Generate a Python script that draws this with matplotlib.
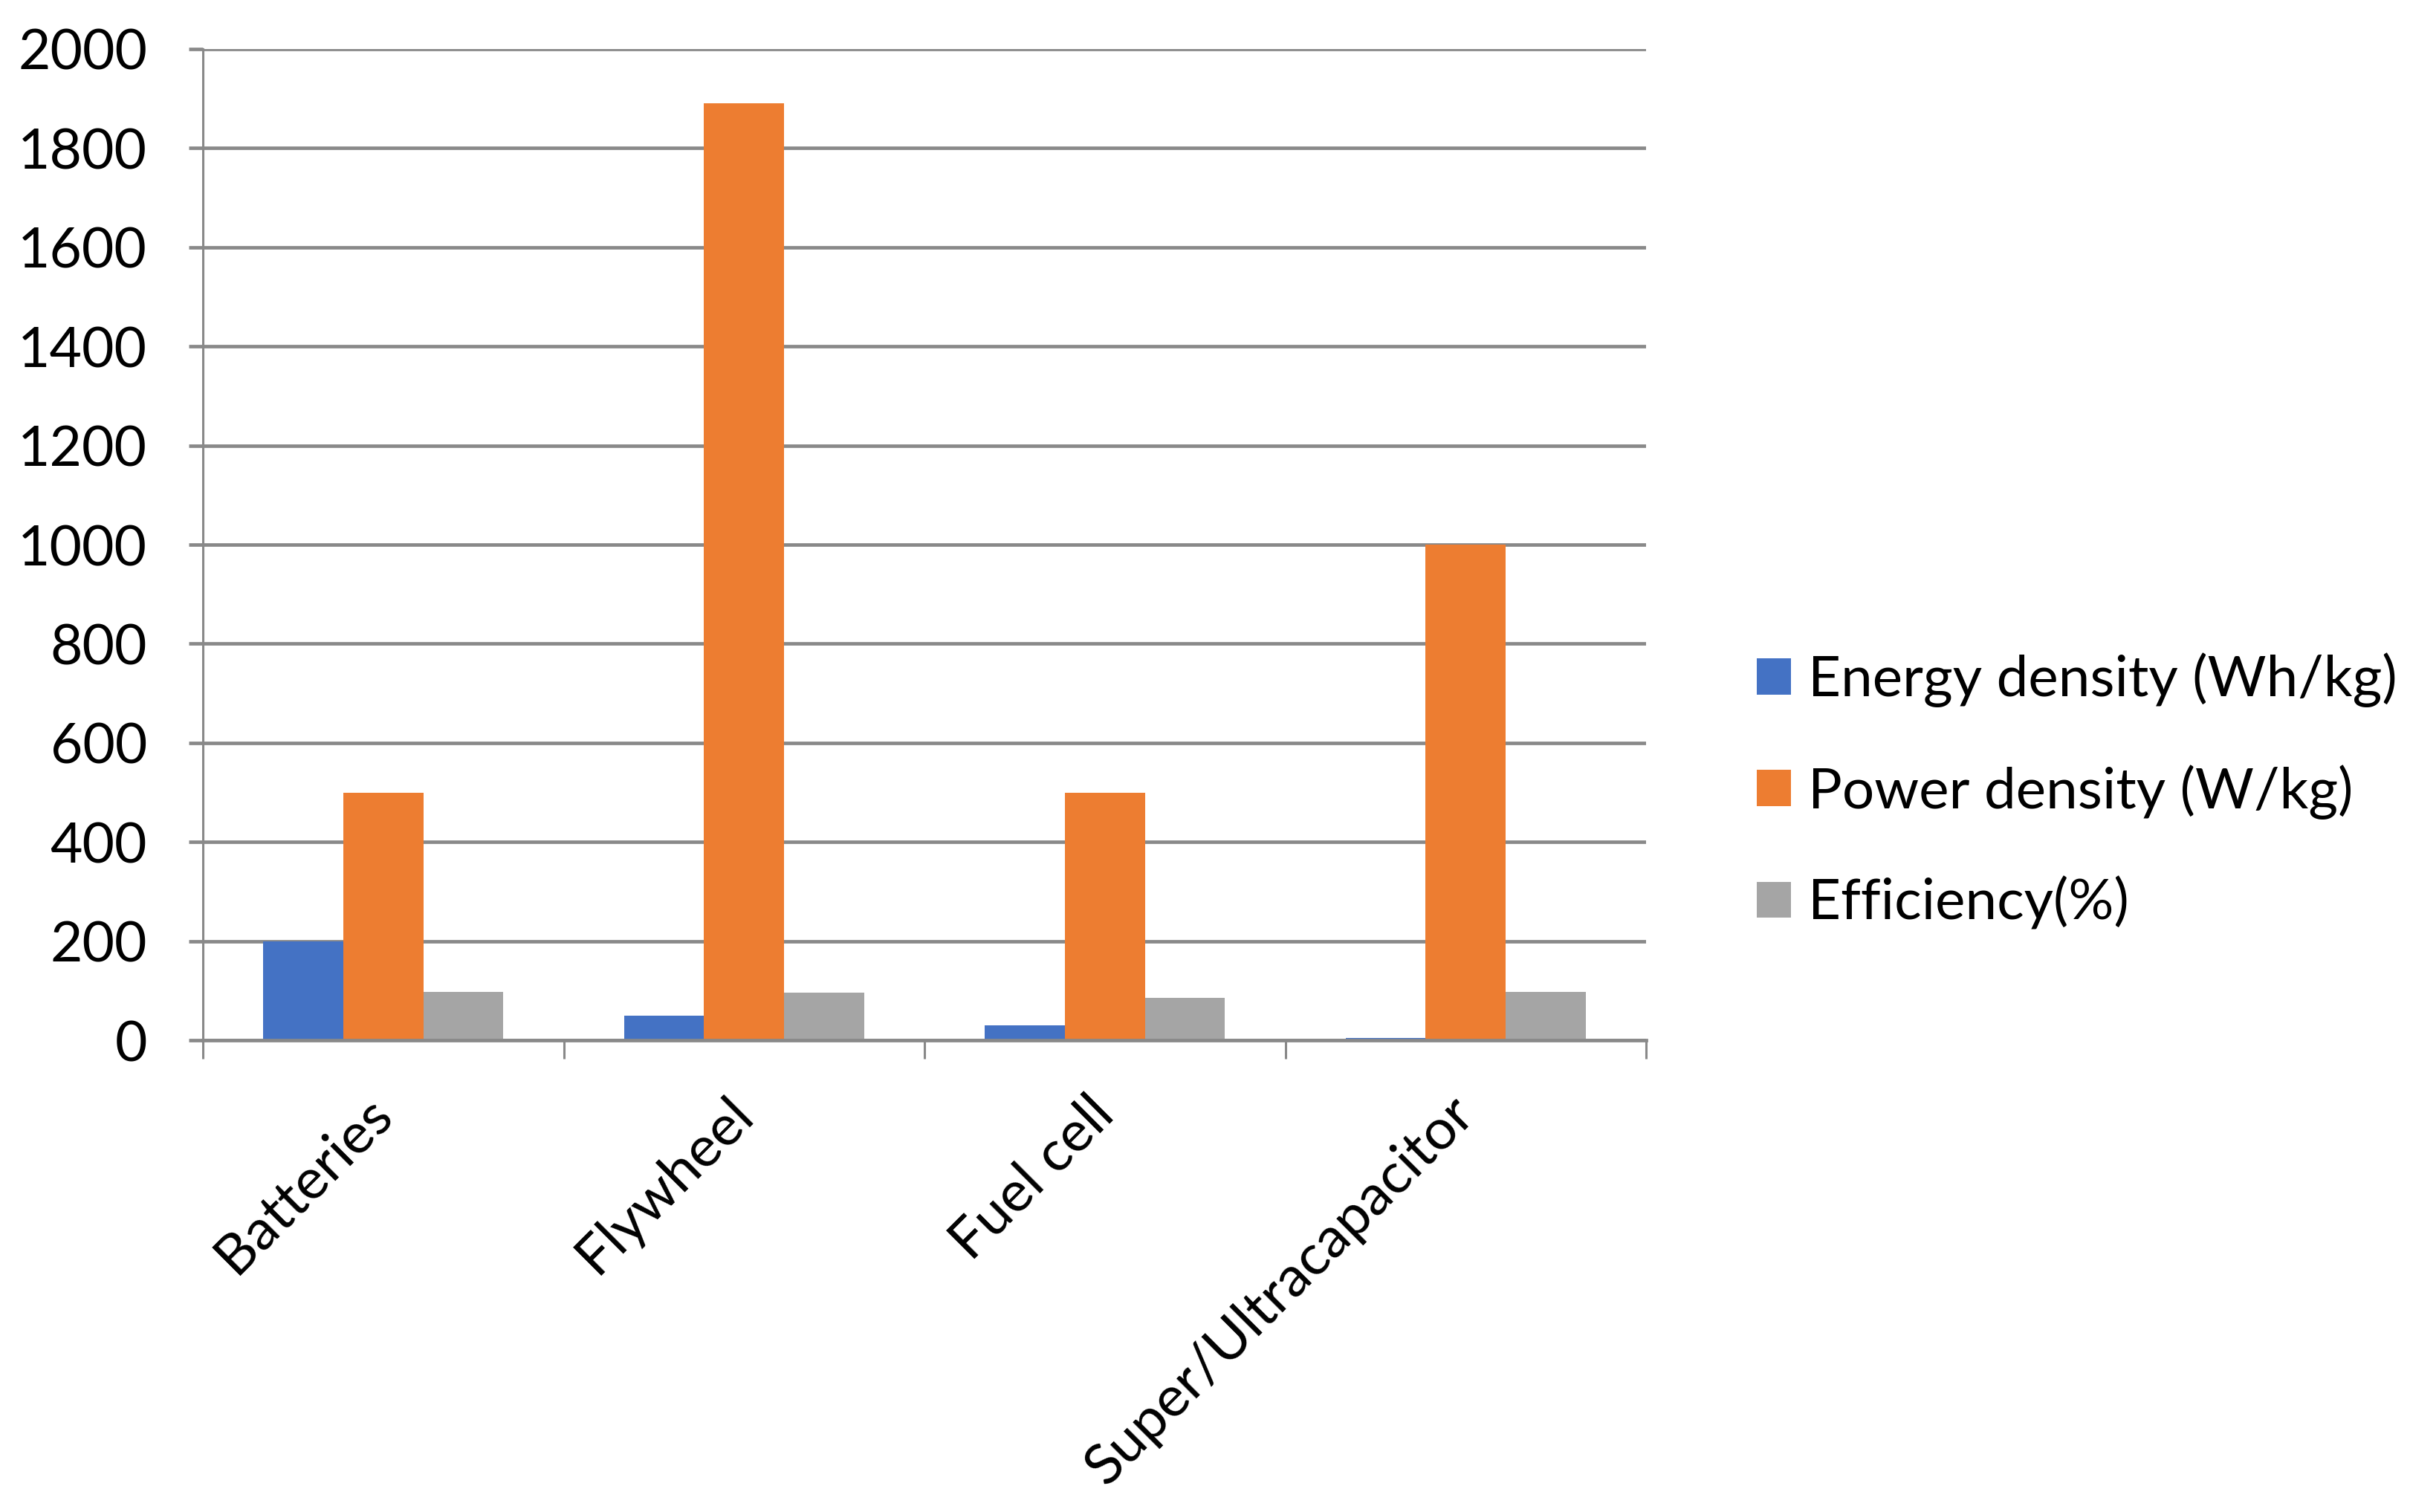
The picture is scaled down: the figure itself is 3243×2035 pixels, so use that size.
import matplotlib
matplotlib.use("Agg")
import matplotlib.pyplot as plt
import matplotlib.transforms as mtransforms
import numpy as np

categories = ["Batteries", "Flywheel", "Fuel cell", "Super/Ultracapacitor"]
energy_density = [200, 50, 30, 5]
power_density = [500, 1890, 500, 1000]
efficiency = [97, 96, 85, 97]
series_names = ["Energy density (Wh/kg)", "Power density (W/kg)", "Efficiency(%)"]
series_colors = ["#4472C4", "#ED7D31", "#A5A5A5"]
y_ticks = [0, 200, 400, 600, 800, 1000, 1200, 1400, 1600, 1800, 2000]

plt.rcParams['font.family'] = ['Lato', 'DejaVu Sans']
W, H = 3243, 2035
fig = plt.figure(figsize=(W / 100, H / 100), dpi=100)
ax = fig.add_axes([273 / W, 1 - 1400 / H, (2215 - 273) / W, (1400 - 66) / H])

x = np.arange(len(categories))
bw = 0.222
grid_c = "#898989"
for i, (vals, name, col) in enumerate(zip([energy_density, power_density, efficiency], series_names, series_colors)):
    ax.bar(x + (i - 1) * bw, vals, width=bw, color=col, label=name, zorder=3)

ax.set_xlim(-0.5, len(categories) - 0.5)
ax.set_ylim(0, 2000)
ax.set_yticks(y_ticks)
ax.set_yticklabels([str(v) for v in y_ticks], fontsize=54)
ax.yaxis.grid(True, color=grid_c, linewidth=3.4, zorder=0)
ax.set_axisbelow(True)

ax.set_xticks(x)
ax.set_xticklabels(categories, fontsize=55, rotation=45, ha='right', va='center', rotation_mode='anchor')
offset = mtransforms.ScaledTranslation(4 / 72, 0, fig.dpi_scale_trans)
for lab in ax.get_xticklabels():
    lab.set_transform(lab.get_transform() + offset)
ax.set_xticks(np.arange(-0.5, len(categories), 1.0), minor=True)
ax.tick_params(axis='x', which='major', length=0, pad=63)
ax.tick_params(axis='x', which='minor', length=18, width=2.2, color=grid_c)
ax.tick_params(axis='y', which='major', length=14, width=3.4, color=grid_c, pad=40)

for s in ['top', 'right']:
    ax.spines[s].set_visible(False)
ax.spines['left'].set_color(grid_c)
ax.spines['left'].set_linewidth(2.2)
ax.spines['bottom'].set_color(grid_c)
ax.spines['bottom'].set_linewidth(3.4)
ax.spines['bottom'].set_zorder(4)

leg = ax.legend(loc='center left', bbox_to_anchor=(2364 / W, 1 - 1065 / H), bbox_transform=fig.transFigure,
                frameon=False, fontsize=55, handlelength=0.6, handleheight=0.6,
                handletextpad=0.3, labelspacing=1.0, borderpad=0, borderaxespad=0)

fig.savefig("out.png", dpi=100, facecolor="white")
